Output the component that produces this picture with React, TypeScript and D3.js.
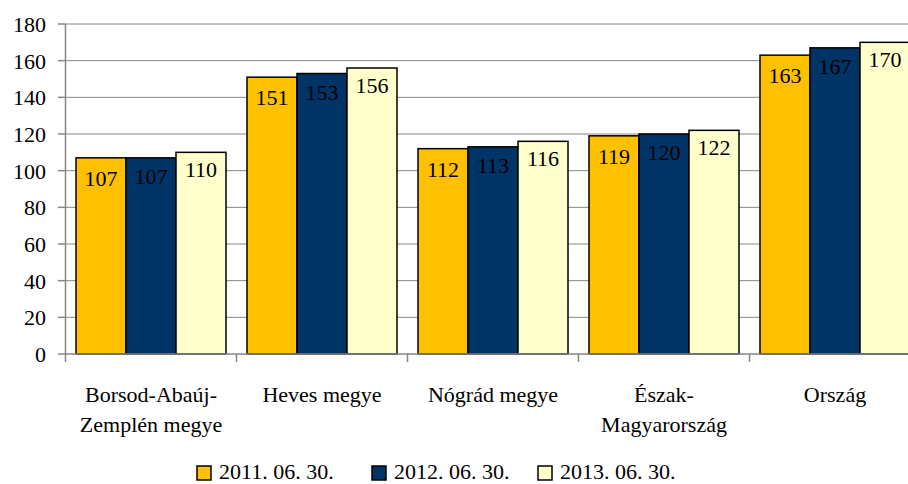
import React from "react";
import * as d3 from "d3";

const categories = [
  ["Borsod-Abaúj-", "Zemplén megye"],
  ["Heves megye"],
  ["Nógrád megye"],
  ["Észak-", "Magyarország"],
  ["Ország"],
];
const seriesNames = ["2011. 06. 30.", "2012. 06. 30.", "2013. 06. 30."];
const series2011 = [107, 151, 112, 119, 163];
const series2012 = [107, 153, 113, 120, 167];
const series2013 = [110, 156, 116, 122, 170];
const yTicks = [0, 20, 40, 60, 80, 100, 120, 140, 160, 180];

const colors = ["#FFC000", "#003366", "#FFFFCC"];
const labelOffsets = [28, 26, 25];

export default function App() {
  const W = 908, H = 484;
  const left = 65.5, top = 24, bottom = 354;
  const band = 171;
  const keys = categories.map((c) => c.join(" "));
  const x0 = d3.scaleBand<string>().domain(keys).range([left, left + band * keys.length]).padding(0);
  const x1 = d3.scaleBand<string>().domain(seriesNames).range([0, x0.bandwidth()]).paddingInner(0).paddingOuter(0.21);
  const y = d3.scaleLinear().domain([0, 180]).range([bottom, top]);
  const data = [series2011, series2012, series2013];
  const fontStyle = { fontFamily: '"Liberation Serif", "DejaVu Serif", serif' };
  const grid = "#868686";
  const legendX = [197, 372, 538];

  return (
    <svg width={W} height={H} style={{ position: "absolute", left: 0, top: 0, background: "#fff", ...fontStyle }}>
      {yTicks.filter((t) => t > 0).map((t) => (
        <line key={"g" + t} x1={left} x2={W} y1={y(t)} y2={y(t)} stroke={grid} strokeWidth={1} />
      ))}
      {data.map((vals, si) =>
        vals.map((v, ci) => {
          const bx = (x0(keys[ci]) as number) + (x1(seriesNames[si]) as number);
          return (
            <rect key={`b${si}-${ci}`} x={bx} y={y(v)} width={x1.bandwidth()} height={bottom - y(v)}
              fill={colors[si]} stroke="#000" strokeWidth={1.5} />
          );
        })
      )}
      {data.map((vals, si) =>
        vals.map((v, ci) => {
          const bx = (x0(keys[ci]) as number) + (x1(seriesNames[si]) as number) + x1.bandwidth() / 2;
          return (
            <text key={`l${si}-${ci}`} x={bx} y={y(v) + labelOffsets[si]} textAnchor="middle" fontSize={22} fill="#000" style={fontStyle}>
              {v}
            </text>
          );
        })
      )}
      <line x1={left} x2={left} y1={top} y2={bottom} stroke={grid} strokeWidth={1.5} />
      <line x1={left} x2={W} y1={bottom} y2={bottom} stroke={grid} strokeWidth={1.5} />
      {yTicks.map((t) => (
        <g key={"t" + t}>
          <line x1={58} x2={left} y1={y(t)} y2={y(t)} stroke={grid} strokeWidth={1.5} />
          <text x={46} y={y(t) + 8} textAnchor="end" fontSize={22} fill="#000" style={fontStyle}>{t}</text>
        </g>
      ))}
      {keys.map((k, i) => (
        <line key={"xt" + i} x1={x0(k) as number} x2={x0(k) as number} y1={bottom} y2={362} stroke={grid} strokeWidth={1.5} />
      ))}
      {categories.map((lines, i) => (
        <text key={"c" + i} textAnchor="middle" fontSize={22} fill="#000" style={fontStyle}>
          {lines.map((ln, j) => (
            <tspan key={j} x={(x0(keys[i]) as number) + x0.bandwidth() / 2} y={402 + j * 30}>{ln}</tspan>
          ))}
        </text>
      ))}
      {seriesNames.map((s, i) => (
        <g key={"lg" + i}>
          <rect x={legendX[i]} y={466} width={14} height={14} fill={colors[i]} stroke="#000" strokeWidth={1.5} />
          <text x={legendX[i] + 22} y={479} fontSize={22} fill="#000" style={fontStyle}>{s}</text>
        </g>
      ))}
    </svg>
  );
}
